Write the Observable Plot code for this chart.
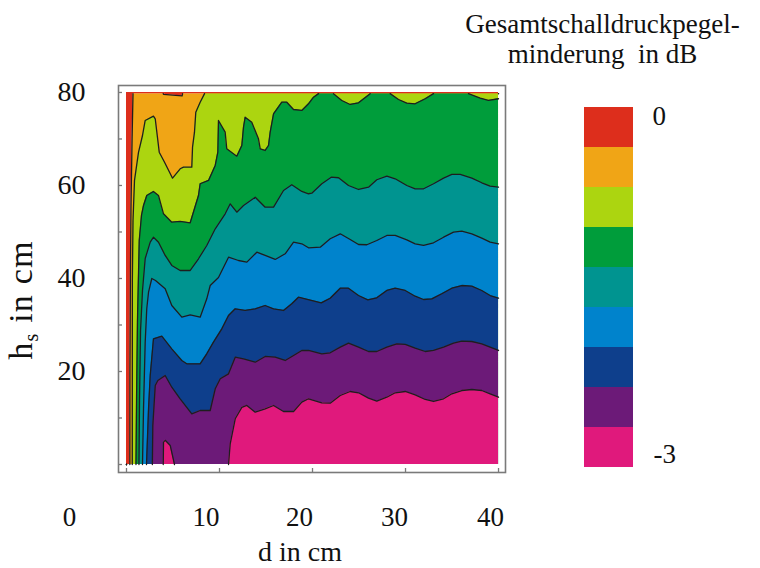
<!DOCTYPE html>
<html><head><meta charset="utf-8">
<script src="https://cdn.jsdelivr.net/npm/d3@7"></script>
<script src="https://cdn.jsdelivr.net/npm/@observablehq/plot@0.6"></script>
<style>
html,body{margin:0;padding:0;background:#fff;}
#wrap{position:relative;width:760px;height:568px;}
#wrap svg{position:absolute;top:0;}
</style></head><body><div id="wrap"></div>
<script>
// ---- data ----
const levels = [0, -0.375, -0.75, -1.125, -1.5, -1.875, -2.25, -2.625, -3];
const levelColors = ["#dd2e1c", "#f0a516", "#acd510", "#009d3b", "#009490", "#0083cc", "#0e3f8c", "#6c1a78", "#e0197c"];
const legendLabels = ["0", "-3"];
const xTicks = [0, 10, 20, 30, 40];
const yTicks = [0, 10, 20, 30, 40, 50, 60, 70, 80];
const xTickLabels = [0, 10, 20, 30, 40];
const yTickLabels = [20, 40, 60, 80];

// contour boundaries (d in cm, h_s in cm); region below each boundary has the lower level
const b1x = [0, 3.95, 3.98, 4.16, 4.7, 5.16, 10.97, 11.15, 11.69, 12.4, 12.94, 13.84, 14.91, 15.81, 16.88, 17.96, 18.85, 19.57, 21.0, 21.9, 22.98, 24.05, 24.95, 26.02, 26.91, 27.99, 28.89, 29.97, 31.04, 32.12, 33.01, 34.09, 34.98, 36.05, 37.13, 38.2, 39.1, 40];
const b1y = [0, 0, 4.8, 5.2, 4.1, 0, 0, 4.45, 9.83, 12.3, 12.7, 11.25, 11.98, 12.69, 11.4, 11.4, 13.4, 14.13, 13.27, 13.18, 14.84, 15.7, 15.42, 14.26, 13.61, 14.47, 15.42, 15.7, 14.99, 13.98, 13.55, 14.13, 15.2, 15.91, 16.13, 15.91, 15.2, 14.47];

const b2x = [0, 2.78, 2.83, 3.09, 3.37, 4.16, 4.87, 5.77, 7.02, 7.92, 9.0, 9.54, 10.08, 10.97, 11.69, 12.58, 13.84, 14.91, 15.99, 17.06, 17.96, 18.85, 19.57, 21.0, 21.9, 22.98, 23.87, 24.95, 26.02, 26.91, 27.99, 29.06, 29.97, 31.04, 32.12, 33.01, 34.09, 35.16, 36.05, 37.13, 38.2, 39.1, 40];
const b2y = [0, 0, 8.39, 16.99, 18.06, 19.14, 16.62, 14.13, 10.9, 11.61, 11.61, 16.28, 18.43, 19.5, 23.08, 22.73, 22.0, 23.23, 23.08, 22.37, 23.44, 24.52, 24.52, 23.81, 24.02, 25.23, 26.09, 25.23, 24.3, 24.3, 25.23, 25.96, 25.81, 25.01, 24.3, 24.52, 25.23, 26.09, 26.52, 26.45, 25.96, 25.23, 24.52];

const b3x = [0, 2.15, 2.37, 2.55, 2.9, 3.8, 4.87, 5.95, 6.48, 7.92, 8.63, 9.35, 10.25, 10.97, 11.69, 12.76, 13.84, 14.91, 15.81, 16.88, 17.77, 18.49, 19.22, 20.94, 21.9, 22.98, 23.87, 24.95, 25.95, 26.91, 27.99, 28.89, 29.97, 31.04, 31.94, 32.83, 33.9, 34.98, 36.05, 37.13, 38.2, 39.1, 40];
const b3y = [0, 0, 12.04, 19.14, 27.03, 27.59, 24.88, 22.37, 21.66, 21.66, 23.81, 26.3, 29.18, 32.04, 33.48, 33.12, 33.48, 34.19, 33.48, 33.12, 34.56, 35.98, 35.63, 34.77, 35.76, 37.91, 37.91, 36.34, 35.42, 35.85, 37.42, 37.91, 37.42, 36.19, 35.48, 35.63, 36.71, 37.91, 38.49, 38.34, 37.42, 36.34, 35.76];

const b4x = [0, 1.72, 1.83, 2.01, 2.18, 2.37, 2.72, 3.12, 4.16, 4.87, 5.95, 6.85, 7.92, 8.63, 9.0, 9.89, 10.97, 12.04, 12.94, 14.01, 14.91, 15.99, 17.06, 17.96, 18.85, 19.57, 20.83, 21.9, 22.98, 24.05, 24.95, 25.84, 26.91, 27.99, 28.89, 30.14, 31.04, 31.94, 33.01, 34.09, 35.16, 36.05, 37.13, 38.2, 39.1, 40];
const b4y = [0, 0, 12.04, 26.3, 33.55, 37.05, 40.0, 39.57, 37.78, 34.19, 31.68, 32.19, 31.68, 35.63, 38.49, 40.22, 44.58, 43.87, 43.51, 45.66, 44.95, 44.09, 45.31, 47.81, 47.46, 46.6, 46.73, 48.54, 49.61, 48.39, 47.31, 47.25, 48.17, 49.25, 49.25, 48.32, 47.46, 47.1, 47.68, 48.88, 49.96, 50.17, 49.61, 48.67, 47.81, 47.46];

const b5x = [0, 1.34, 1.4, 1.51, 1.72, 2.01, 2.55, 2.9, 3.44, 4.16, 4.87, 5.77, 6.85, 7.74, 8.63, 9.54, 10.61, 11.15, 11.86, 12.58, 13.84, 14.91, 15.81, 16.88, 17.77, 18.85, 19.57, 19.92, 21.0, 22.01, 22.8, 23.87, 24.95, 26.02, 26.91, 27.99, 28.89, 30.14, 31.04, 31.94, 33.01, 34.09, 34.98, 35.88, 37.13, 38.2, 39.1, 40];
const b5y = [0, 0, 13.76, 28.82, 37.42, 44.3, 47.81, 48.88, 47.81, 44.95, 42.8, 41.72, 41.72, 44.24, 47.1, 50.69, 53.91, 56.06, 54.26, 55.7, 57.48, 55.33, 55.33, 58.92, 60.15, 58.71, 58.22, 58.34, 60.37, 61.78, 61.66, 60.0, 59.14, 59.63, 61.23, 62.0, 61.44, 60.0, 59.29, 59.29, 60.37, 61.57, 62.37, 62.37, 61.57, 60.58, 59.85, 59.63];

const b6x = [0, 1.02, 1.08, 1.18, 1.37, 1.61, 1.83, 2.18, 2.9, 3.44, 3.98, 4.87, 5.77, 6.85, 7.74, 7.92, 8.82, 9.54, 9.82, 9.89, 10.61, 10.78, 11.86, 12.4, 12.58, 12.76, 13.47, 14.19, 14.38, 14.91, 15.27, 15.45, 15.81, 16.7, 17.24, 17.96, 18.85, 19.57, 20.11, 20.65, 22.26, 23.15, 24.05, 24.95, 26.2, 28.35, 29.25, 30.14, 31.04, 32.12, 33.01, 36.77, 38.03, 38.92, 40];
const b6y = [0, 0, 13.76, 30.97, 48.17, 53.55, 55.7, 57.85, 58.71, 57.85, 53.91, 52.11, 52.26, 51.98, 57.85, 60.37, 61.08, 64.3, 67.16, 73.98, 71.46, 67.89, 66.3, 68.6, 72.54, 74.69, 73.61, 70.04, 67.89, 67.53, 68.6, 71.46, 75.42, 77.91, 77.91, 76.34, 76.13, 77.57, 78.99, 79.75, 79.75, 78.28, 77.42, 77.78, 79.75, 79.75, 78.49, 77.7, 77.57, 78.65, 79.75, 79.75, 78.77, 78.28, 78.65];

const b7x = [0, 0.62, 0.63, 0.7, 0.86, 1.29, 1.72, 2.01, 2.9, 3.09, 3.52, 4.09, 4.95, 5.77, 6.13, 7.02, 7.1, 7.31, 7.45, 7.92, 8.39, 40];
const b7y = [0, 0, 39.57, 52.47, 61.08, 67.1, 70.75, 73.98, 74.9, 74.34, 67.16, 65.01, 61.57, 63.59, 63.94, 63.94, 68.24, 71.46, 75.76, 77.91, 79.75, 79.75];

const b8x = [0, 0.36, 0.37, 0.42, 0.48, 0.6, 0.7, 3.95, 3.98, 5.98, 6.03, 40];
const b8y = [0, 0, 20, 40, 55, 70, 79.75, 79.75, 79.6, 79.25, 79.75, 79.75];

// ---- build ----
const boundaries = [
  {x: b8x, y: b8y, below: levels[1]},
  {x: b7x, y: b7y, below: levels[2]},
  {x: b6x, y: b6y, below: levels[3]},
  {x: b5x, y: b5y, below: levels[4]},
  {x: b4x, y: b4y, below: levels[5]},
  {x: b3x, y: b3y, below: levels[6]},
  {x: b2x, y: b2y, below: levels[7]},
  {x: b1x, y: b1y, below: levels[8]}
];
const pts = (b, level) => b.x.map((x, i) => ({x, y: b.y[i], level}));
const edge = v => v <= 0 || v >= 79.7;
function linePts(b) {
  const out = [];
  for (let i = 0; i < b.x.length; i++) {
    out.push({x: b.x[i], y: b.y[i]});
    if (i < b.x.length - 1 && edge(b.y[i]) && edge(b.y[i + 1])) out.push({x: NaN, y: NaN});
  }
  return out;
}

const FONT = "Liberation Serif, Times New Roman, serif";
const axisGrey = "#7a7a7a";
const xLabelDx = {0: -57, 10: -13.5, 20: -13, 30: -11, 40: -8};

const marks = [];
for (const b of boundaries) {
  marks.push(Plot.areaY(pts(b, b.below), {x: "x", y1: 0, y2: "y", fill: "level"}));
}
marks.push(Plot.areaY(pts(boundaries[0], levels[0]), {x: "x", y1: "y", y2: 80, fill: "level"}));
for (const b of boundaries) {
  marks.push(Plot.line(linePts(b), {x: "x", y: "y", stroke: "#1e1e1e", strokeWidth: 1.3, strokeLinejoin: "round"}));
}
marks.push(Plot.frame({stroke: axisGrey, strokeWidth: 1.6}));
marks.push(Plot.axisX({ticks: xTicks, tickSize: -4, tickFormat: () => "", stroke: axisGrey, strokeWidth: 1.3, label: null}));
marks.push(Plot.axisY({ticks: yTicks, tickSize: -4, tickFormat: () => "", stroke: axisGrey, strokeWidth: 1.3, label: null}));
marks.push(Plot.axisY({ticks: yTickLabels, tickSize: 0, tickPadding: 33, fontSize: 28, fill: "#111", label: null}));
for (const t of xTickLabels) {
  marks.push(Plot.axisX({ticks: [t], tickSize: 0, tickPadding: 34.5, dx: xLabelDx[t], fontSize: 27, fill: "#111", label: null}));
}

const chart = Plot.plot({
  width: 760, height: 568,
  marginLeft: 118, marginRight: 255, marginTop: 85, marginBottom: 96,
  x: {domain: [-0.86, 40.75], label: null},
  y: {domain: [-1.72, 81.5], label: null},
  color: {type: "ordinal", domain: levels, range: levelColors},
  style: {fontFamily: FONT, background: "transparent", color: "#111", overflow: "visible"},
  marks
});
chart.style.left = "0px";
document.getElementById("wrap").appendChild(chart);

const svg = d3.select(chart);
const addText = (x, y, str, opts = {}) => svg.append("text")
  .attr("x", x).attr("y", y).attr("text-anchor", opts.anchor || "middle")
  .attr("font-family", FONT).attr("font-size", opts.size || 27).attr("fill", "#111")
  .style("white-space", "pre").text(str);
addText(300, 561, "d in cm", {size: 28});
addText(602.5, 33, "Gesamtschalldruckpegel-");
addText(602.5, 63, "minderung  in dB");
const yl = svg.append("text").attr("transform", "translate(32,300) rotate(-90)")
  .attr("text-anchor", "middle").attr("font-family", FONT).attr("font-size", 34)
  .attr("letter-spacing", 1.2).attr("fill", "#111");
yl.append("tspan").text("h");
yl.append("tspan").attr("font-size", 20).attr("dy", 6).text("s");
yl.append("tspan").attr("dy", -6).style("white-space", "pre").text(" in cm");

// ---- legend ----
const legend = Plot.plot({
  width: 200, height: 568,
  marginLeft: 24, marginRight: 127, marginTop: 103, marginBottom: 98,
  x: {axis: null},
  y: {type: "band", domain: levels, padding: 0, axis: null},
  color: {type: "ordinal", domain: levels, range: levelColors},
  style: {fontFamily: FONT, background: "transparent", color: "#111", overflow: "visible"},
  marks: [
    Plot.cell(levels, {y: d => d, fill: d => d}),
    Plot.text([levels[0]], {y: d => d, text: () => legendLabels[0], frameAnchor: "right", textAnchor: "start", dx: 19, dy: -11, fontSize: 27, fill: "#111"}),
    Plot.text([levels[8]], {y: d => d, text: () => legendLabels[1], frameAnchor: "right", textAnchor: "start", dx: 20, dy: 7, fontSize: 27, fill: "#111"})
  ]
});
legend.style.left = "560px";
document.getElementById("wrap").appendChild(legend);
</script></body></html>
